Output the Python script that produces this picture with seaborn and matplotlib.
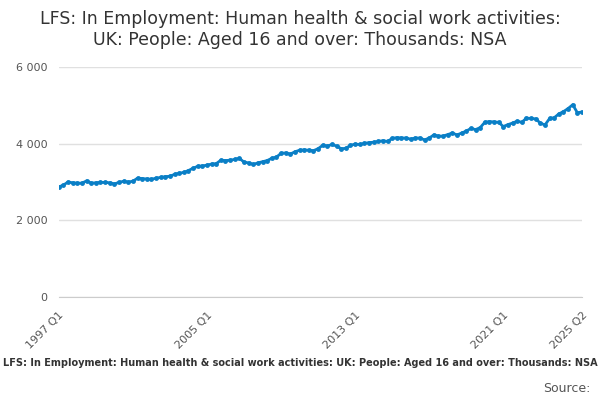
import matplotlib
matplotlib.use("Agg")
import matplotlib.pyplot as plt
import seaborn as sns
import pandas as pd

values = [2870, 2920, 3000, 2980, 2970, 2970, 3030, 2970, 2980, 2990, 2990, 2980,
          2950, 2990, 3020, 3000, 3020, 3100, 3090, 3080, 3070, 3100, 3120, 3140,
          3150, 3200, 3230, 3250, 3300, 3360, 3410, 3420, 3440, 3470, 3480, 3570,
          3560, 3570, 3590, 3620, 3520, 3500, 3460, 3500, 3530, 3560, 3620, 3650,
          3750, 3760, 3730, 3790, 3830, 3840, 3830, 3820, 3870, 3960, 3940, 3980,
          3940, 3870, 3880, 3960, 3990, 3980, 4010, 4030, 4040, 4060, 4080, 4060,
          4140, 4160, 4150, 4150, 4120, 4150, 4150, 4100, 4150, 4230, 4200, 4200,
          4240, 4280, 4230, 4280, 4330, 4400, 4370, 4420, 4560, 4580, 4570, 4560,
          4450, 4500, 4540, 4590, 4560, 4670, 4660, 4650, 4540, 4490, 4660, 4680,
          4780, 4840, 4920, 5020, 4810, 4830]
periods = [f"{1997 + i // 4} Q{i % 4 + 1}" for i in range(len(values))]
tick_labels = ["1997 Q1", "2005 Q1", "2013 Q1", "2021 Q1", "2025 Q2"]

df = pd.DataFrame({"idx": range(len(values)), "value": values})

sns.set_style("white")
fig, ax = plt.subplots(figsize=(6, 4), dpi=100)
fig.subplots_adjust(left=0.098, right=0.97, top=0.832, bottom=0.258)
sns.lineplot(data=df, x="idx", y="value", ax=ax, color="#0a7fc6", linewidth=2,
             marker="o", markersize=3.5, markeredgewidth=0)

ax.set_ylim(0, 6000)
ax.set_xlim(0, len(values) - 1)
ax.set_yticks([0, 2000, 4000, 6000])
ax.set_yticklabels(["0", "2 000", "4 000", "6 000"])
ax.yaxis.grid(True, color="#e0e0e0", linewidth=1)
ax.tick_params(axis="y", length=0, labelsize=8, colors="#555555", pad=8)
major = [periods.index(t) for t in tick_labels]
ax.set_xticks(major)
ax.set_xticklabels(tick_labels, rotation=45, ha="right", rotation_mode="anchor",
                   fontsize=8, color="#555555")
ax.set_xticks(list(range(0, len(values), 8)), minor=True)
ax.tick_params(axis="x", which="both", length=6, color="#cccccc", colors="#555555")
for s in ["top", "right", "left"]:
    ax.spines[s].set_visible(False)
ax.spines["bottom"].set_color("#cccccc")
ax.set_xlabel("")
ax.set_ylabel("")

fig.suptitle("LFS: In Employment: Human health & social work activities:\nUK: People: Aged 16 and over: Thousands: NSA",
             fontsize=12.5, color="#333333", y=0.975)
fig.text(0.5, 0.085, "LFS: In Employment: Human health & social work activities: UK: People: Aged 16 and over: Thousands: NSA",
         ha="center", fontsize=7, fontweight="bold", color="#333333")
fig.text(0.985, 0.02, "Source:", ha="right", fontsize=9, color="#555555")
fig.savefig("out.png", dpi=100)
